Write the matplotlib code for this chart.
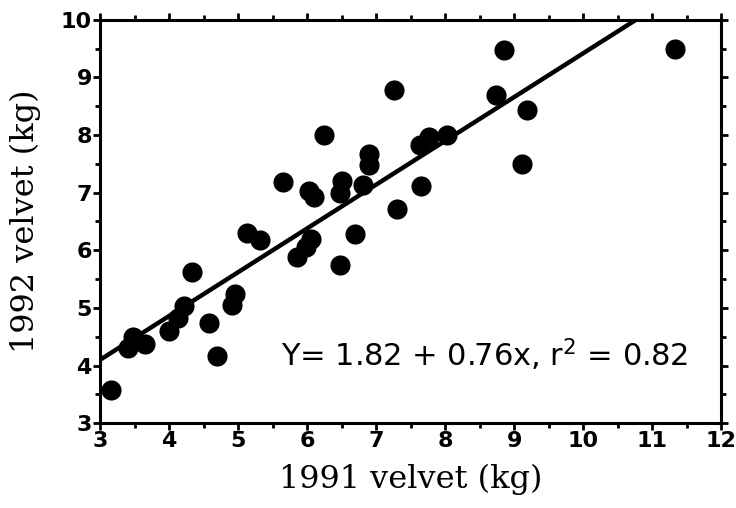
import numpy as np
import matplotlib.pyplot as plt
from matplotlib.ticker import MultipleLocator

# velvet weights per animal, 1991 vs 1992
velvet_1991 = [3.16, 3.41, 3.48, 3.65, 4.00, 4.13, 4.22, 4.33, 4.58, 4.70,
               4.91, 4.95, 5.13, 5.32, 5.65, 5.85, 5.98, 6.05, 6.03, 6.10,
               6.25, 6.47, 6.50, 6.47, 6.70, 6.81, 6.89, 6.89, 7.26, 7.30,
               7.65, 7.64, 7.76, 8.02, 8.74, 8.85, 9.11, 9.19, 11.33]
velvet_1992 = [3.57, 4.30, 4.50, 4.38, 4.60, 4.82, 5.03, 5.63, 4.73, 4.17,
               5.05, 5.25, 6.30, 6.18, 7.19, 5.88, 6.05, 6.20, 7.03, 6.92,
               8.00, 7.00, 7.20, 5.74, 6.28, 7.14, 7.67, 7.48, 8.78, 6.72,
               7.12, 7.82, 7.97, 8.00, 8.69, 9.47, 7.49, 8.43, 9.49]

intercept = 1.82
slope = 0.76
r2 = 0.82

fig = plt.figure(figsize=(7.36, 5.08), dpi=100)
ax = fig.add_axes([0.136, 0.167, 0.844, 0.794])

ax.scatter(velvet_1991, velvet_1992, s=210, color='black', zorder=3, linewidths=0)

xs = np.array([3, 12])
ax.plot(xs, intercept + slope * xs, color='black', lw=3.2, zorder=2)

ax.set_xlim(3, 12)
ax.set_ylim(3, 10)
ax.xaxis.set_major_locator(MultipleLocator(1))
ax.xaxis.set_minor_locator(MultipleLocator(0.5))
ax.yaxis.set_major_locator(MultipleLocator(1))
ax.yaxis.set_minor_locator(MultipleLocator(0.5))

for s in ax.spines.values():
    s.set_linewidth(2.2)

ax.tick_params(which='both', direction='out', top=True, right=True,
               width=2, labelsize=16)
ax.tick_params(which='major', length=5)
ax.tick_params(which='minor', length=3.5)
ax.tick_params(axis='y', pad=1)
ax.tick_params(axis='x', pad=1)
for lab in ax.get_xticklabels() + ax.get_yticklabels():
    lab.set_fontweight('bold')
    lab.set_family('DejaVu Sans')

ax.set_xlabel('1991 velvet (kg)', family='DejaVu Serif', fontsize=23, labelpad=9)
ax.set_ylabel('1992 velvet (kg)', family='DejaVu Serif', fontsize=23, labelpad=14)

ax.text(0.947, 0.17, f'Y= {intercept} + {slope}x, r$^2$ = {r2}',
        transform=ax.transAxes, ha='right', va='center', fontsize=22,
        family='DejaVu Sans')

fig.savefig('out.png', dpi=100)
